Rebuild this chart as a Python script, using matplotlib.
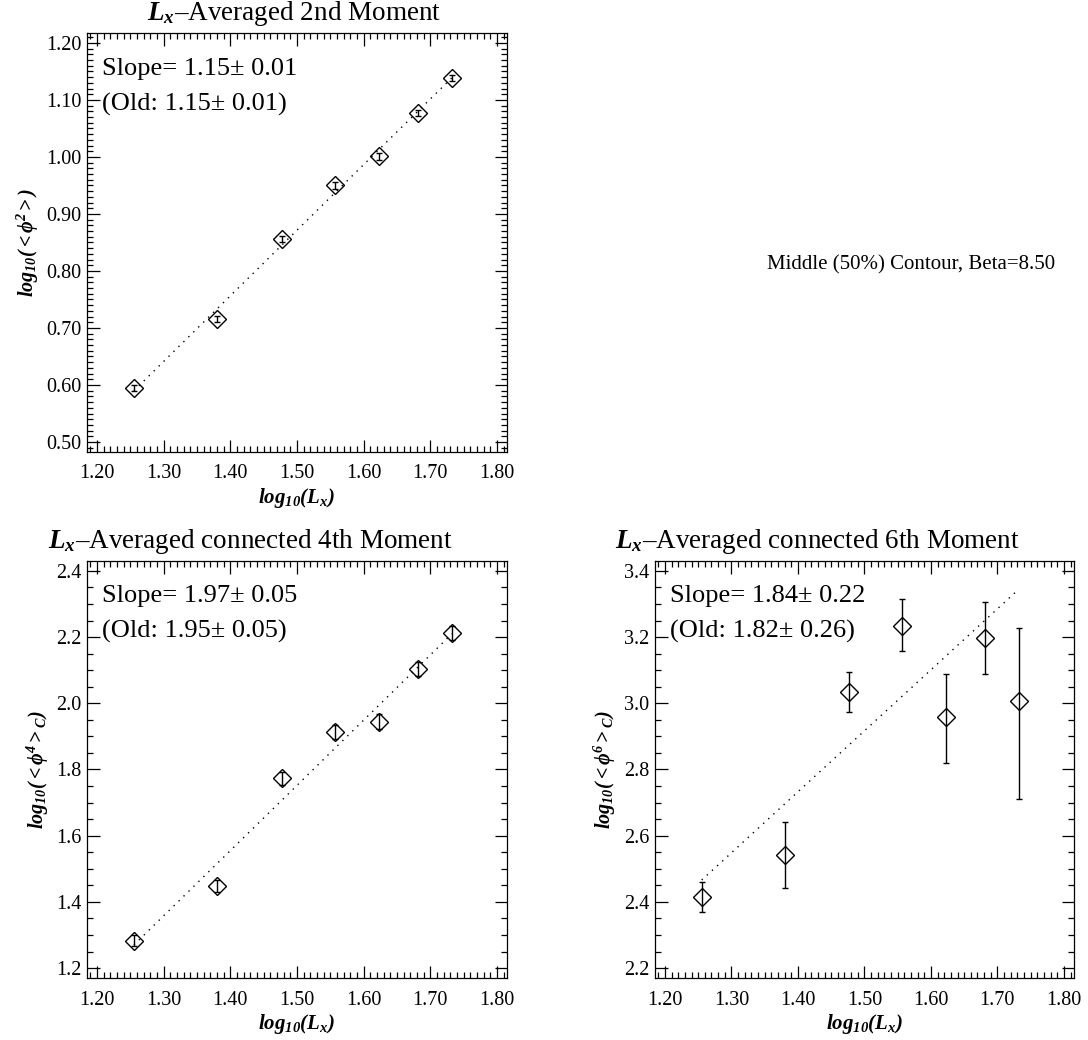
import matplotlib
matplotlib.use("Agg")
import matplotlib.pyplot as plt
from matplotlib.ticker import MultipleLocator, FormatStrFormatter

plt.rcParams['font.family'] = ['Liberation Serif', 'DejaVu Serif']
plt.rcParams['mathtext.fontset'] = 'custom'
plt.rcParams['mathtext.rm'] = 'Liberation Serif'
plt.rcParams['mathtext.it'] = 'Liberation Serif:italic'
plt.rcParams['mathtext.bf'] = 'Liberation Serif:italic:bold'

# --- Data ---------------------------------------------------------------------
LOG_LX = [1.2553, 1.3802, 1.4771, 1.5563, 1.6232, 1.6812, 1.7324]

M2      = [0.595, 0.716, 0.856, 0.950, 1.001, 1.077, 1.139]
M2_ERR  = [0.005, 0.005, 0.005, 0.006, 0.006, 0.006, 0.005]
M2_FIT  = [0.590, 1.139]

M4      = [1.283, 1.447, 1.773, 1.913, 1.945, 2.103, 2.212]
M4_ERR  = [0.017, 0.018, 0.020, 0.020, 0.022, 0.022, 0.022]
M4_FIT  = [1.270, 2.210]

M6      = [2.415, 2.543, 3.035, 3.235, 2.960, 3.198, 3.006]
M6_LO   = [0.045, 0.100, 0.060, 0.078, 0.140, 0.108, 0.296]
M6_HI   = [0.045, 0.097, 0.060, 0.080, 0.128, 0.107, 0.222]
M6_FIT  = [2.466, 3.345]

FIT_X = [LOG_LX[0], LOG_LX[-1]]

fig = plt.figure(figsize=(10.88, 10.40), dpi=100)


def setup(ax, ylim, ymaj, ymin, yfmt, title, title_x, ylabel, slope, old):
    ax.set_xlim(1.185, 1.815)
    ax.set_ylim(*ylim)
    ax.xaxis.set_major_locator(MultipleLocator(0.1))
    ax.xaxis.set_minor_locator(MultipleLocator(0.01))
    ax.yaxis.set_major_locator(MultipleLocator(ymaj))
    ax.yaxis.set_minor_locator(MultipleLocator(ymin))
    ax.xaxis.set_major_formatter(FormatStrFormatter('%.2f'))
    ax.yaxis.set_major_formatter(FormatStrFormatter(yfmt))
    ax.tick_params(which='both', direction='in', top=True, right=True,
                   labelsize=14.5, width=0.9)
    ax.tick_params(axis='x', pad=9)
    ax.tick_params(axis='y', pad=4)
    ax.tick_params(which='major', length=9)
    ax.tick_params(which='minor', length=4.5)
    for s in ax.spines.values():
        s.set_linewidth(0.9)
    ax.text(title_x, 1.012, r'$\mathbf{L_x}$' + '\u2013' + title,
            transform=ax.transAxes, fontsize=19.5, ha='left', va='bottom')
    ax.set_xlabel(r'$\mathbf{log_{10}(L_x)}$', fontsize=15, labelpad=2)
    ax.set_ylabel(ylabel, fontsize=14.5, labelpad=4)
    ax.text(0.035, 0.915, 'Slope= ' + slope, transform=ax.transAxes,
            fontsize=19, va='center')
    ax.text(0.035, 0.83, '(Old: ' + old + ')', transform=ax.transAxes,
            fontsize=19, va='center')


def draw(ax, y, yerr, fit):
    ax.plot(FIT_X, fit, linestyle=(0, (1, 4)), color='black', linewidth=1)
    ax.errorbar(LOG_LX, y, yerr=yerr, fmt='D', markersize=9,
                markerfacecolor='none', markeredgecolor='black',
                markeredgewidth=1, ecolor='black', elinewidth=1,
                capsize=2, capthick=1)


# Top-left: 2nd moment
ax1 = fig.add_axes([0.080, 0.5654, 0.386, 0.4029])
draw(ax1, M2, M2_ERR, M2_FIT)
setup(ax1, (0.4825, 1.2175), 0.1, 0.01, '%.2f', 'Averaged 2nd Moment', 0.143,
      r'$\mathbf{log_{10}({<}\phi^2{>})}$', '1.15\u00b1 0.01', '1.15\u00b1 0.01')

# Bottom-left: connected 4th moment
ax2 = fig.add_axes([0.080, 0.0596, 0.386, 0.4010])
draw(ax2, M4, M4_ERR, M4_FIT)
setup(ax2, (1.17, 2.43), 0.2, 0.05, '%.1f', 'Averaged connected 4th Moment', -0.093,
      r'$\mathbf{log_{10}({<}\phi^4{>}_C)}$', '1.97\u00b1 0.05', '1.95\u00b1 0.05')

# Bottom-right: connected 6th moment
ax3 = fig.add_axes([0.602, 0.0596, 0.385, 0.4010])
draw(ax3, M6, [M6_LO, M6_HI], M6_FIT)
setup(ax3, (2.17, 3.43), 0.2, 0.05, '%.1f', 'Averaged connected 6th Moment', -0.095,
      r'$\mathbf{log_{10}({<}\phi^6{>}_C)}$', '1.84\u00b1 0.22', '1.82\u00b1 0.26')

fig.text(0.705, 0.745, 'Middle (50%) Contour, Beta=8.50', fontsize=15,
         ha='left', va='center')

fig.savefig('out.png', dpi=100)
